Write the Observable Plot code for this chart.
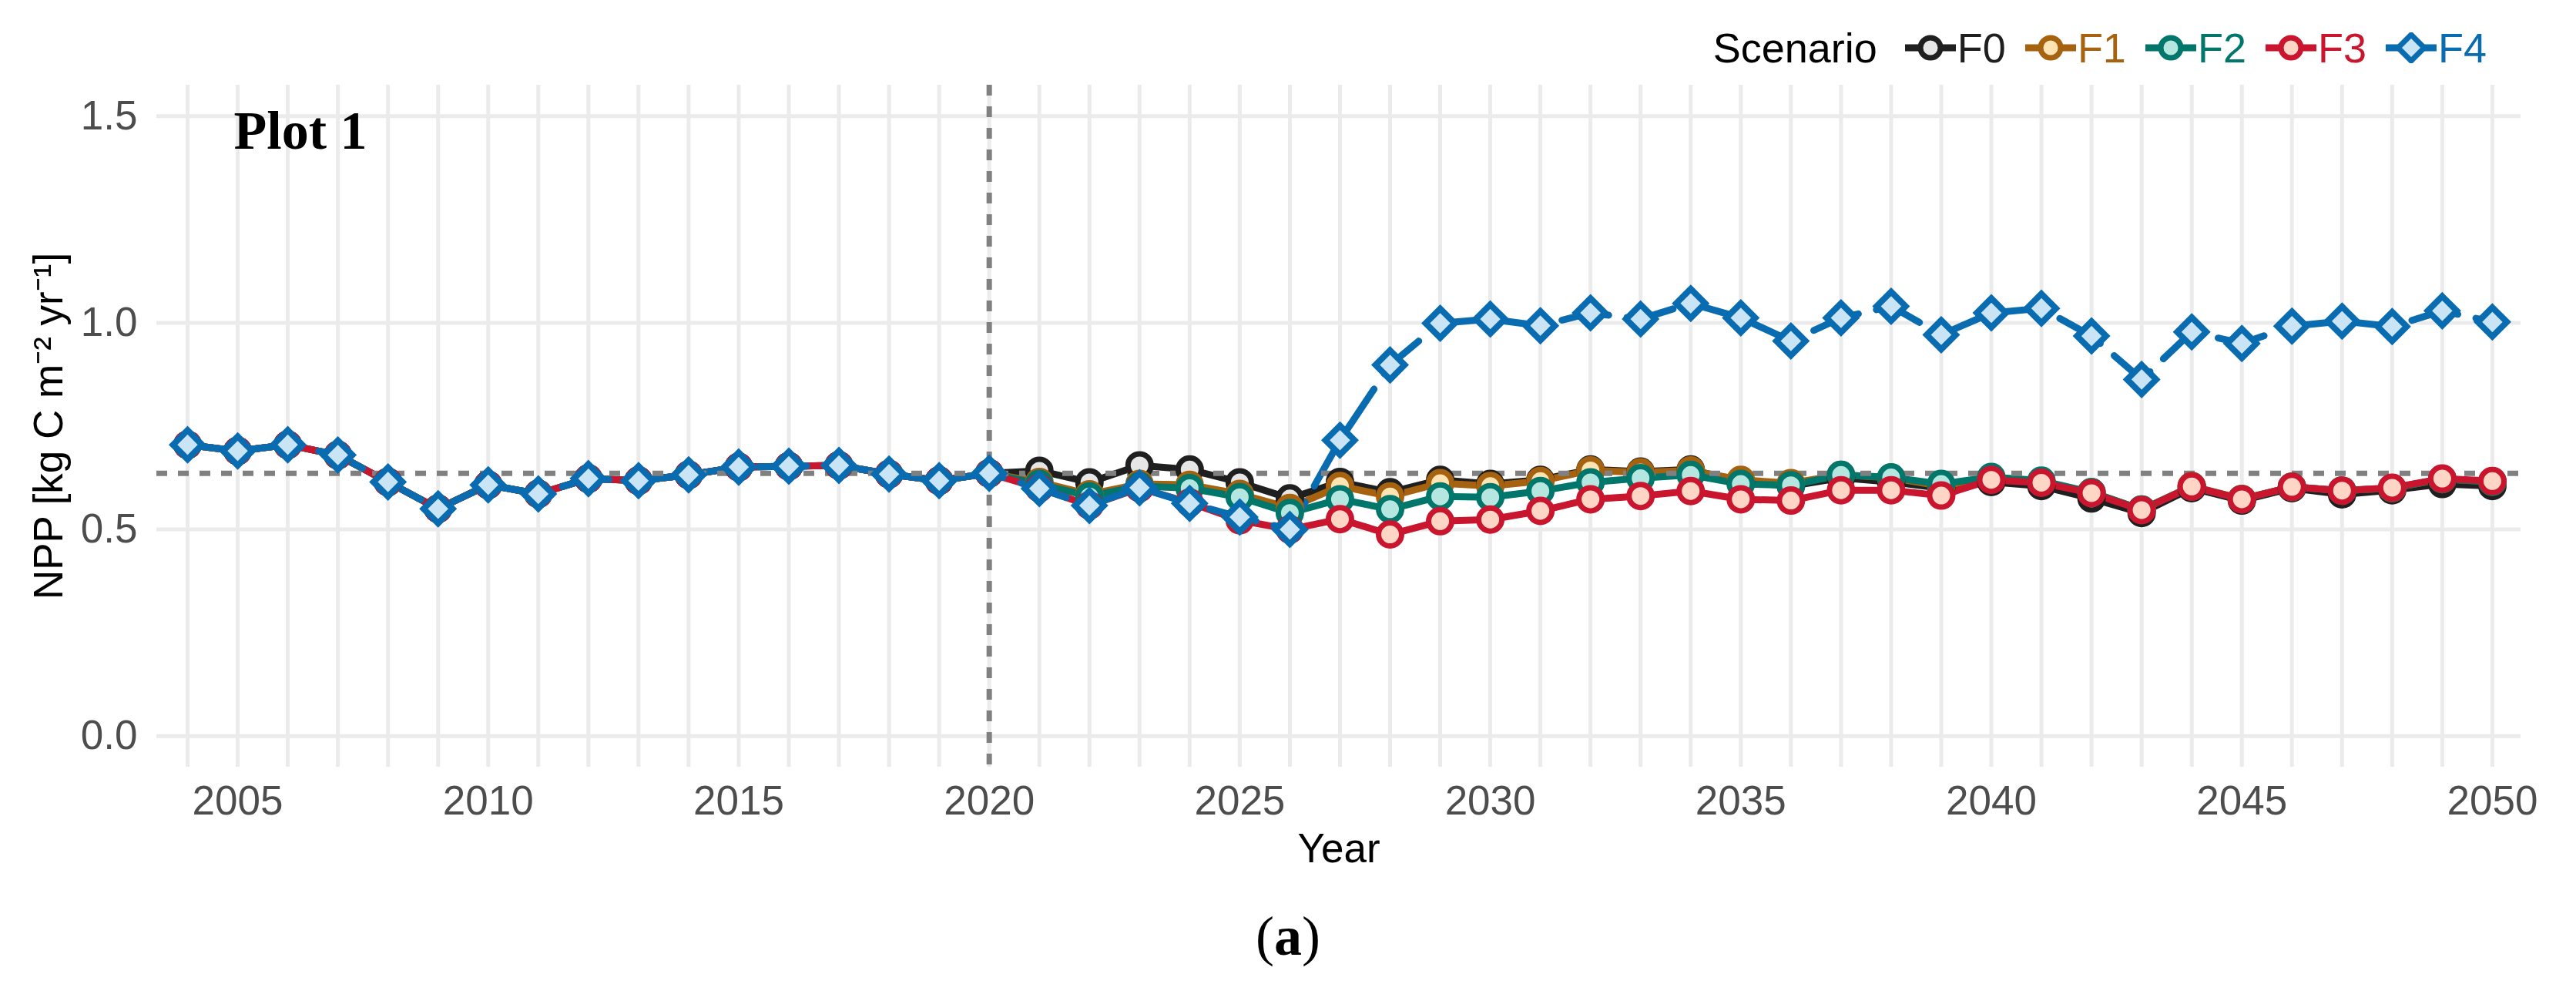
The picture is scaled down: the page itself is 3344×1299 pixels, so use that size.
<!DOCTYPE html>
<html>
<head>
<meta charset="utf-8">
<script src="https://cdn.jsdelivr.net/npm/d3@7"></script>
<script src="https://cdn.jsdelivr.net/npm/@observablehq/plot@0.6"></script>
<style>
  html, body { margin: 0; padding: 0; background: #fff; }
  body { width: 3344px; height: 1299px; overflow: hidden; font-family: "Liberation Sans", Arial, sans-serif; }
  #legend { height: 100px; box-sizing: border-box; padding-top: 24px; padding-right: 116px;
            display: flex; align-items: center; justify-content: flex-end; font-size: 54px; }
  #legend .ttl { color: #000; margin-right: 36px; }
  #legend .item { display: flex; align-items: center; margin-left: 25px; }
  #legend .item:first-of-type { margin-left: 0; }
  #legend .item span { margin-left: 2px; }
  #legend svg { display: block; }
  #chart svg { display: block; }
  #caption { text-align: center; font-family: "Liberation Serif", "Times New Roman", serif; font-size: 72px;
             line-height: 72px; margin-top: 34px; color: #000; }
</style>
</head>
<body>
<div id="legend"></div>
<div id="chart"></div>
<div id="caption">(<b>a</b>)</div>
<script>
// ---------- data ----------
const years = [2004, 2005, 2006, 2007, 2008, 2009, 2010, 2011, 2012, 2013, 2014, 2015, 2016, 2017, 2018, 2019, 2020,
               2021, 2022, 2023, 2024, 2025, 2026, 2027, 2028, 2029, 2030, 2031, 2032, 2033, 2034, 2035, 2036, 2037,
               2038, 2039, 2040, 2041, 2042, 2043, 2044, 2045, 2046, 2047, 2048, 2049, 2050];
const xTicks = [2005, 2010, 2015, 2020, 2025, 2030, 2035, 2040, 2045, 2050];
const yTicks = [0.0, 0.5, 1.0, 1.5];
const scenarios = ["F0", "F1", "F2", "F3", "F4"];
const strokeColors = ["#1f1f1f", "#a6620f", "#00776a", "#c9162e", "#0a6cb0"];
const fillColors = ["#e6e6e6", "#ffe3b3", "#b5e6df", "#ffd6c6", "#c9e4f5"];

// 2004-2020 (shared by all scenarios)
const historical = [0.705, 0.690, 0.705, 0.680, 0.615, 0.550, 0.608, 0.586, 0.623, 0.618, 0.632, 0.651, 0.653,
                    0.655, 0.634, 0.618, 0.636];
// 2021-2050
const futureF0 = [0.642, 0.614, 0.655, 0.645, 0.614, 0.575, 0.615, 0.590, 0.620, 0.610,
                  0.620, 0.645, 0.640, 0.645, 0.615, 0.605, 0.625, 0.615, 0.600, 0.615,
                  0.605, 0.575, 0.540, 0.600, 0.570, 0.600, 0.585, 0.595, 0.610, 0.605];
const futureF1 = [0.615, 0.585, 0.610, 0.608, 0.586, 0.552, 0.605, 0.580, 0.612, 0.605,
                  0.617, 0.643, 0.638, 0.643, 0.620, 0.612, 0.632, 0.625, 0.605, 0.625,
                  0.615, 0.590, 0.548, 0.605, 0.574, 0.603, 0.594, 0.600, 0.622, 0.616];
const futureF2 = [0.610, 0.580, 0.605, 0.600, 0.578, 0.540, 0.573, 0.549, 0.580, 0.578,
                  0.593, 0.614, 0.624, 0.632, 0.610, 0.607, 0.632, 0.626, 0.610, 0.627,
                  0.618, 0.590, 0.548, 0.604, 0.573, 0.603, 0.594, 0.600, 0.622, 0.615];
const futureF3 = [0.600, 0.558, 0.600, 0.565, 0.522, 0.500, 0.525, 0.488, 0.520, 0.524,
                  0.545, 0.573, 0.581, 0.593, 0.573, 0.570, 0.595, 0.595, 0.582, 0.620,
                  0.613, 0.588, 0.547, 0.604, 0.573, 0.603, 0.594, 0.601, 0.623, 0.617];
const futureF4 = [0.599, 0.558, 0.601, 0.563, 0.530, 0.500, 0.716, 0.898, 0.999, 1.009,
                  0.993, 1.024, 1.009, 1.047, 1.012, 0.956, 1.012, 1.040, 0.971, 1.024,
                  1.035, 0.968, 0.863, 0.978, 0.950, 0.992, 1.004, 0.991, 1.029, 1.002];
const refLevel = [0.636];
const refYear = [2020];

const yTitle = "NPP [kg C m\u207B\u00B2 yr\u207B\u00B9]";
const xTitle = "Year";
const panelTag = "Plot 1";

// ---------- table ----------
const futureSeries = [futureF0, futureF1, futureF2, futureF3, futureF4];
const table = scenarios.map((s, i) =>
  years.map((yr, j) => ({
    scenario: s,
    year: yr,
    value: j < historical.length ? historical[j] : futureSeries[i][j - historical.length]
  }))
);

// ---------- legend ----------
const legend = document.getElementById("legend");
legend.innerHTML = `<span class="ttl">Scenario</span>` + scenarios.map((s, i) => {
  const marker = s === "F4"
    ? `<path d="M33,3 L50,20 L33,37 L16,20 Z" fill="${fillColors[i]}" stroke="${strokeColors[i]}" stroke-width="7" stroke-linejoin="miter"/>`
    : `<circle cx="33" cy="20" r="13" fill="${fillColors[i]}" stroke="${strokeColors[i]}" stroke-width="7"/>`;
  return `<div class="item"><svg width="66" height="40" viewBox="0 0 66 40">
      <line x1="0" x2="66" y1="20" y2="20" stroke="${strokeColors[i]}" stroke-width="9"/>${marker}</svg>
      <span style="color:${strokeColors[i]}">${s}</span></div>`;
}).join("");

// ---------- plot ----------
const lineMarks = scenarios.map((s, i) => Plot.line(table[i], {
  x: "year", y: "value", stroke: strokeColors[i], strokeWidth: 9, strokeLinejoin: "round",
  ...(s === "F4" ? {strokeDasharray: "62,24"} : {})
}));
const dotMarks = scenarios.map((s, i) => Plot.dot(table[i], {
  x: "year", y: "value",
  symbol: s === "F4" ? "diamond2" : "circle",
  r: s === "F4" ? 17 : 15,
  stroke: strokeColors[i], fill: fillColors[i],
  strokeWidth: s === "F4" ? 8 : 7
}));

const chart = Plot.plot({
  width: 3344,
  height: 1045,
  marginLeft: 203,
  marginRight: 72,
  marginTop: 10,
  marginBottom: 150,
  style: {fontFamily: "'Liberation Sans', Arial, sans-serif", fontSize: "53px", background: "#fff", overflow: "visible"},
  x: {domain: [2003.385, 2050.57], label: null},
  y: {domain: [-0.075, 1.575], label: null},
  marks: [
    Plot.gridX(years, {stroke: "#ebebeb", strokeOpacity: 1, strokeWidth: 5}),
    Plot.gridY(yTicks, {stroke: "#ebebeb", strokeOpacity: 1, strokeWidth: 5}),
    Plot.axisX(xTicks, {tickSize: 0, tickPadding: 24, tickFormat: d => String(d), fill: "#4d4d4d", fontSize: 53, label: null}),
    Plot.axisY(yTicks, {tickSize: 0, tickPadding: 25, tickFormat: d3.format(".1f"), fill: "#4d4d4d", fontSize: 53, label: null}),
    ...lineMarks,
    Plot.ruleY(refLevel, {stroke: "#808080", strokeWidth: 7, strokeDasharray: "14,14"}),
    Plot.ruleX(refYear, {stroke: "#808080", strokeWidth: 7, strokeDasharray: "14,14"}),
    ...dotMarks,
    Plot.text([panelTag], {text: d => d, frameAnchor: "top-left", dx: 100, dy: 60, textAnchor: "start",
      lineAnchor: "middle", fontFamily: "'Liberation Serif', 'Times New Roman', serif", fontWeight: "bold",
      fontSize: 70, fill: "#000"}),
    Plot.text([xTitle], {text: d => d, frameAnchor: "bottom", dy: 107, lineAnchor: "middle", fontSize: 53, fill: "#000"}),
    Plot.text([yTitle], {text: d => d, frameAnchor: "left", dx: -160, rotate: -90, lineAnchor: "top",
      textAnchor: "middle", fontSize: 53, fill: "#000"})
  ]
});
document.getElementById("chart").appendChild(chart);
</script>
</body>
</html>
